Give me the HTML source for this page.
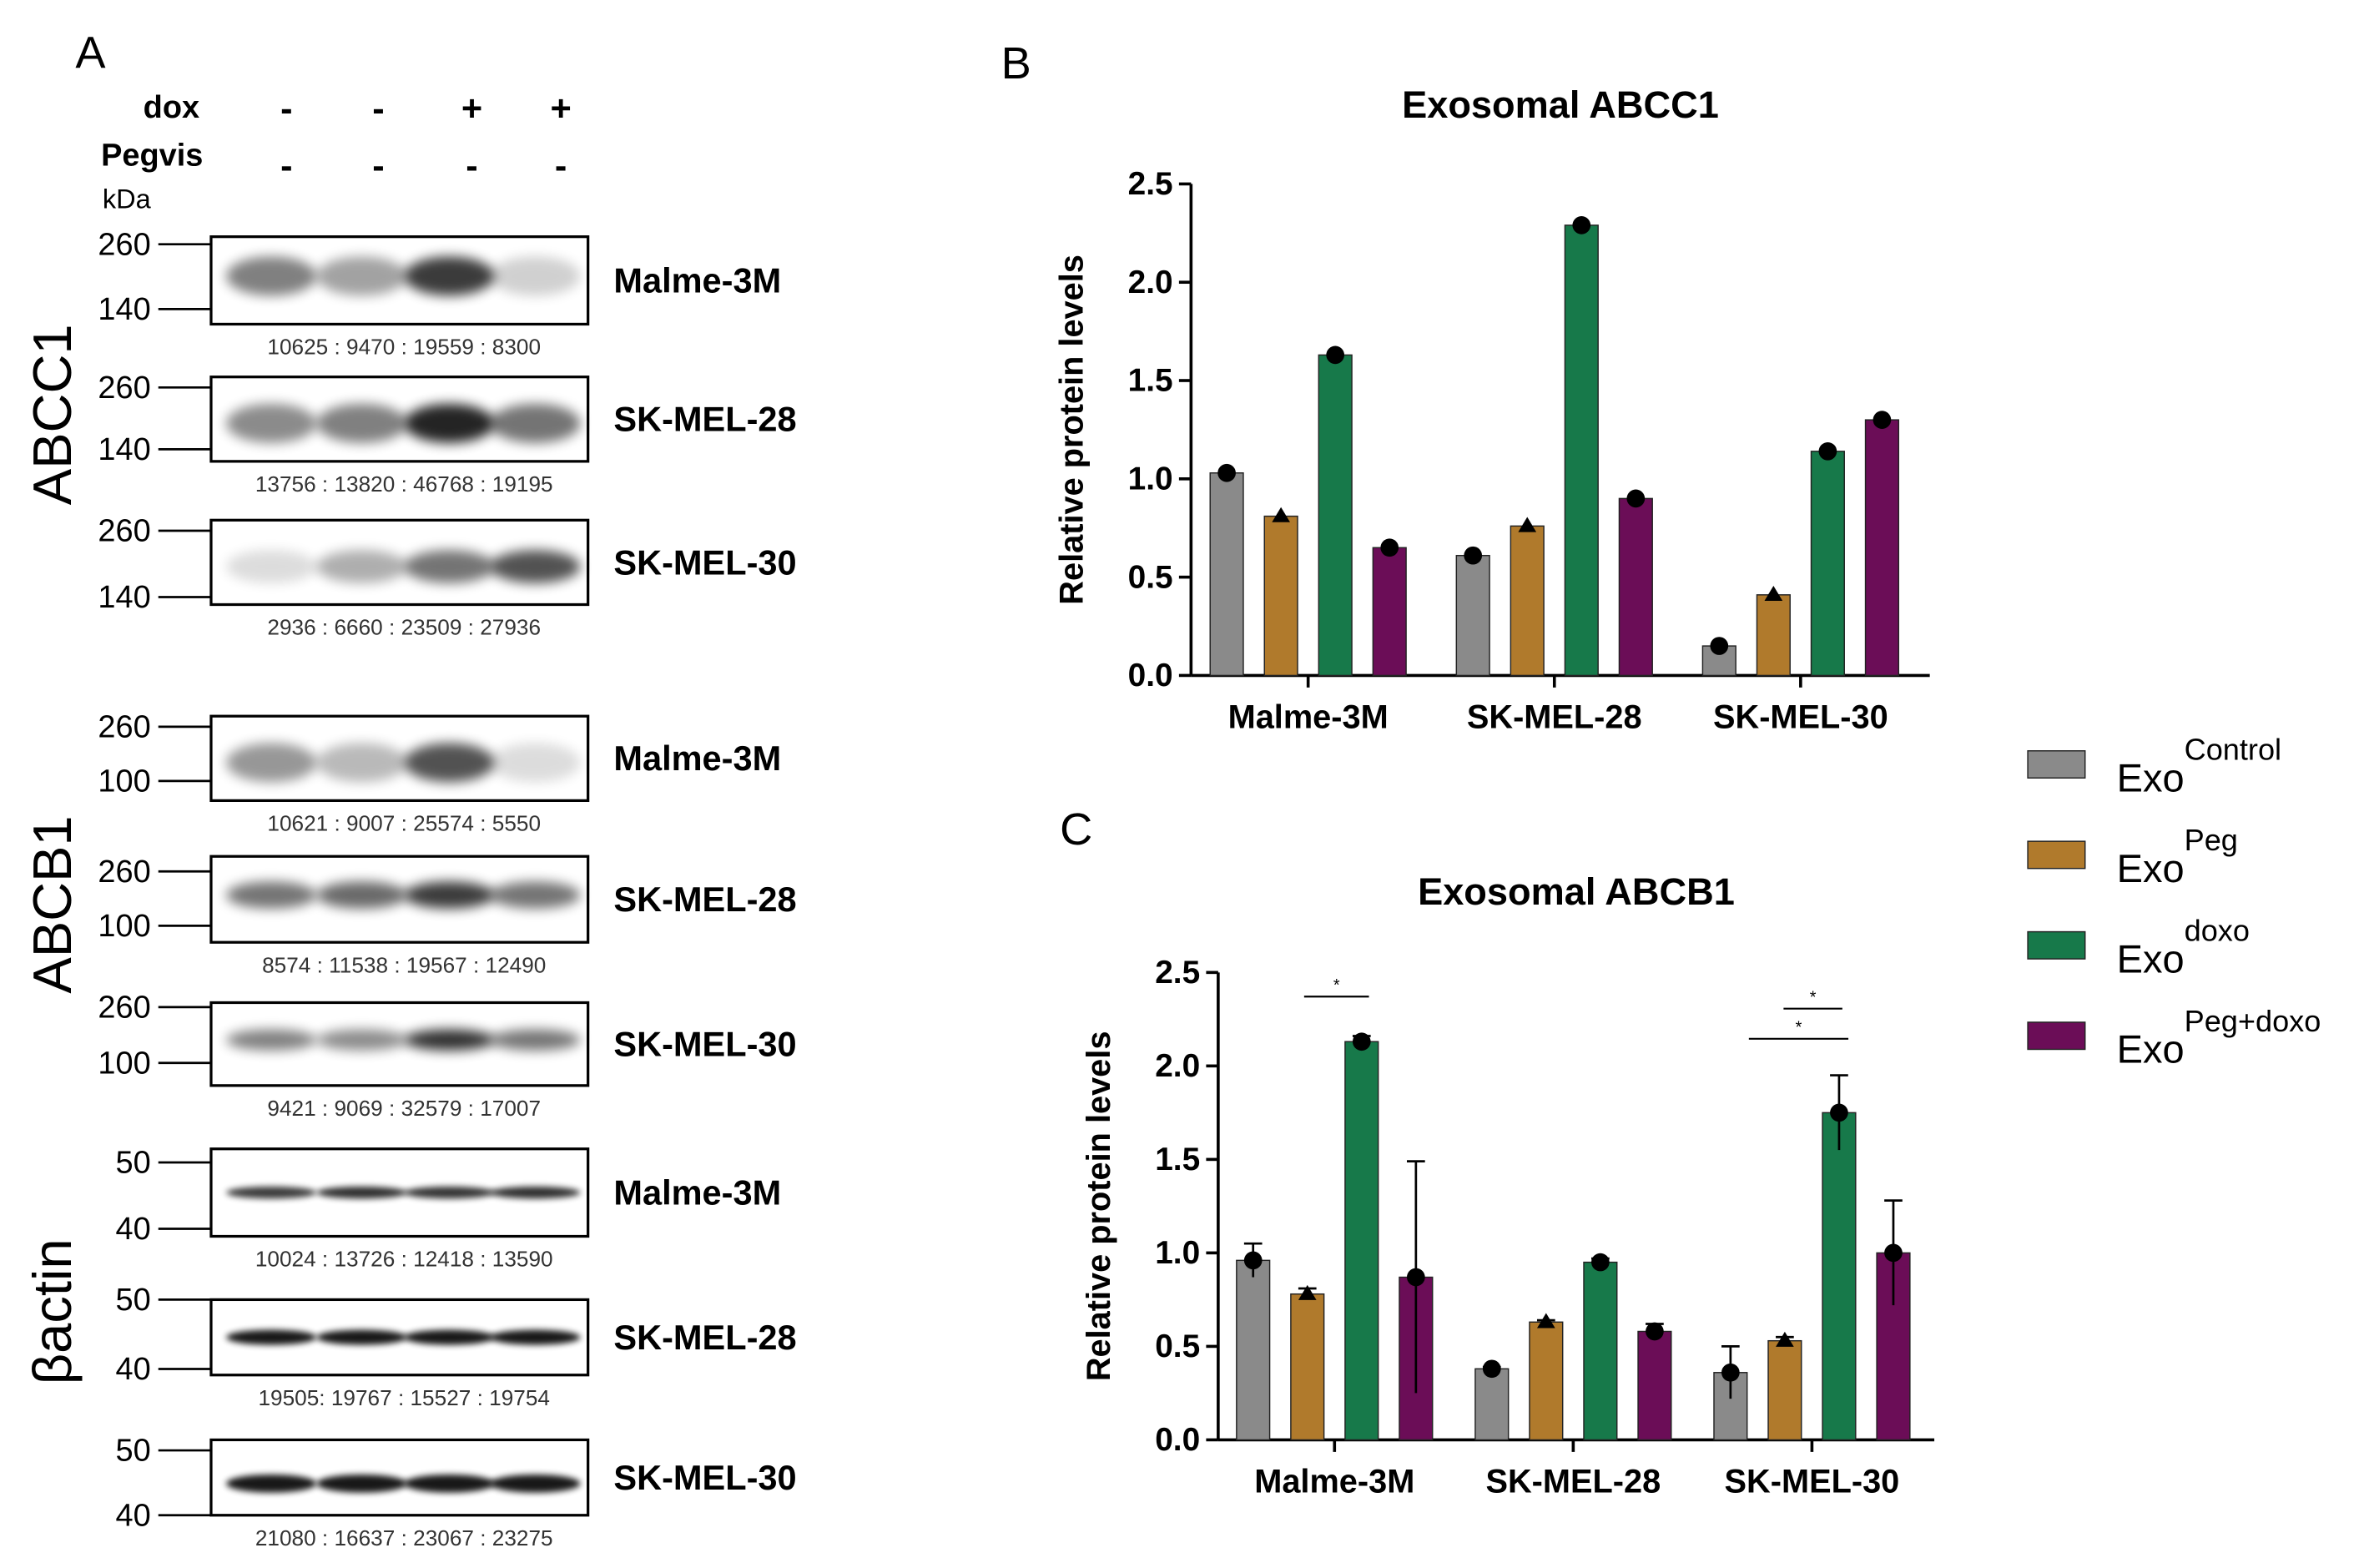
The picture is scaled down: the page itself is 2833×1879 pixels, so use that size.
<!DOCTYPE html>
<html><head><meta charset="utf-8"><style>
html,body{margin:0;padding:0;background:#fff}
svg{display:block}
text{font-family:"Liberation Sans",Arial,sans-serif}
</style></head><body>
<svg id="root" width="2833" height="1879" viewBox="0 0 1568 1040" xmlns="http://www.w3.org/2000/svg">
<defs>
<filter id="blur" x="-50%" y="-100%" width="200%" height="300%"><feGaussianBlur stdDeviation="4"/></filter>
<filter id="blur2" x="-50%" y="-100%" width="200%" height="300%"><feGaussianBlur stdDeviation="2"/></filter>
</defs>
<g id="panelA"></g>
<g id="panelB"></g>
<g id="panelC"></g>
<g id="legend"></g>
</svg>
<script>
// ---- chart data ----
const groups = ["Malme-3M","SK-MEL-28","SK-MEL-30"];
const seriesNames = ["Control","Peg","doxo","Peg+doxo"];
const abcc1Control = [1.03,0.61,0.15];
const abcc1Peg = [0.81,0.76,0.41];
const abcc1Doxo = [1.63,2.29,1.14];
const abcc1PegDoxo = [0.65,0.90,1.30];
const abcb1Control = [0.96,0.38,0.36];
const abcb1Peg = [0.78,0.63,0.53];
const abcb1Doxo = [2.13,0.95,1.75];
const abcb1PegDoxo = [0.87,0.58,1.00];
const abcb1ControlErr = [0.09,0.01,0.14];
const abcb1PegErr = [0.03,0.01,0.02];
const abcb1DoxoErr = [0.03,0.02,0.2];
const abcb1PegDoxoErr = [0.62,0.04,0.28];
const yTicks = [0.0,0.5,1.0,1.5,2.0,2.5];
const yTickLabels = ["0.0","0.5","1.0","1.5","2.0","2.5"];
const colors = ["#8a8a8a","#b07a2c","#17794a","#6b0d57"];
const markers = ["circle","tri","circle","circle"];

const NS="http://www.w3.org/2000/svg";
function mk(parent,tag,attrs,txt){const e=document.createElementNS(NS,tag);for(const k in attrs)e.setAttribute(k,attrs[k]);if(txt!==undefined)e.textContent=txt;parent.appendChild(e);return e;}

// ---- Panel A ----
const A=document.getElementById('panelA');
let t=mk(A,'text',{x:50,y:45,'font-size':30},'A');


t=mk(A,'text',{x:95,y:78,'font-size':21,'font-weight':'bold'},'dox');


t=mk(A,'text',{x:67,y:110,'font-size':21,'font-weight':'bold'},'Pegvis');


t=mk(A,'text',{x:68,y:138,'font-size':18},'kDa');


const laneX=[190,251,313,372];
const doxSigns=["-","-","+","+"], pegSigns=["-","-","-","-"];
laneX.forEach((x,i)=>{
  let s=mk(A,'text',{x:x,y:80,'font-size':24,'font-weight':'bold','text-anchor':'middle'},doxSigns[i]);
  
  
  s=mk(A,'text',{x:x,y:118,'font-size':24,'font-weight':'bold','text-anchor':'middle'},pegSigns[i]);
  
  
});
const blots=[
 {y:157,h:58,t1:"260",t2:"140",ty1:162,ty2:205,cell:"Malme-3M",nums:"10625 : 9470 : 19559 : 8300",inten:[0.55,0.4,0.85,0.2],bh:26,by:0.45},
 {y:250,h:56,t1:"260",t2:"140",ty1:257,ty2:298,cell:"SK-MEL-28",nums:"13756 : 13820 : 46768 : 19195",inten:[0.5,0.55,0.95,0.6],bh:26,by:0.55},
 {y:345,h:56,t1:"260",t2:"140",ty1:352,ty2:396,cell:"SK-MEL-30",nums:"2936 : 6660 : 23509 : 27936",inten:[0.15,0.35,0.6,0.75],bh:22,by:0.55},
 {y:475,h:56,t1:"260",t2:"100",ty1:482,ty2:518,cell:"Malme-3M",nums:"10621 : 9007 : 25574 : 5550",inten:[0.45,0.3,0.75,0.15],bh:26,by:0.55},
 {y:568,h:57,t1:"260",t2:"100",ty1:578,ty2:614,cell:"SK-MEL-28",nums:"8574 : 11538 : 19567 : 12490",inten:[0.6,0.65,0.85,0.6],bh:18,by:0.45},
 {y:665,h:55,t1:"260",t2:"100",ty1:668,ty2:705,cell:"SK-MEL-30",nums:"9421 : 9069 : 32579 : 17007",inten:[0.55,0.5,0.9,0.6],bh:14,by:0.45},
 {y:762,h:58,t1:"50",t2:"40",ty1:771,ty2:815,cell:"Malme-3M",nums:"10024 : 13726 : 12418 : 13590",inten:[0.85,0.9,0.88,0.9],bh:8,by:0.5},
 {y:862,h:50,t1:"50",t2:"40",ty1:862,ty2:908,cell:"SK-MEL-28",nums:"19505: 19767 : 15527 : 19754",inten:[1,1,1,1],bh:10,by:0.5},
 {y:955,h:50,t1:"50",t2:"40",ty1:962,ty2:1005,cell:"SK-MEL-30",nums:"21080 : 16637 : 23067 : 23275",inten:[1,1,1,1],bh:12,by:0.58}
];
blots.forEach((b,bi)=>{
  const g=mk(A,'g',{});
  
  
  mk(g,'rect',{x:140,y:b.y,width:250,height:b.h,fill:'#fff',stroke:'#000','stroke-width':1.8});
  b.inten.forEach((v,i)=>{
    const cx=[180,240,298,355][i];
    const cy=b.y+b.h*b.by;
    mk(g,'ellipse',{cx:cx,cy:cy,rx:30,ry:b.bh/2,fill:'#000',opacity:v*0.9,filter:b.bh<=12?'url(#blur2)':'url(#blur)'});
  });
  [[b.t1,b.ty1],[b.t2,b.ty2]].forEach(([lab,ty])=>{
    mk(g,'line',{x1:105,y1:ty,x2:140,y2:ty,stroke:'#000','stroke-width':1.5});
    let l=mk(g,'text',{x:100,y:ty+7,'font-size':21,'text-anchor':'end'},lab);
    
    
  });
  let c=mk(g,'text',{x:407,y:b.y+b.h/2+8,'font-size':23,'font-weight':'bold'},b.cell);
  
  
  let n=mk(g,'text',{x:268,y:b.y+b.h+20,'font-size':14.5,'text-anchor':'middle',fill:'#333'},b.nums);
  
  
});
[["ABCC1",275],["ABCB1",600],["βactin",870]].forEach(([lab,cy])=>{
  let v=mk(A,'text',{x:0,y:0,'font-size':36,'text-anchor':'middle',transform:`translate(47,${cy}) rotate(-90)`},lab);
  
  
});

// ---- Bar charts ----
function chart(root,opt){
  const {x0,x1,yTop,yBot,title,titleY,letter,lx,ly,vals,errs,gc}=opt;
  const ys=v=>yBot-(v/2.5)*(yBot-yTop);
  let e=mk(root,'text',{x:lx,y:ly,'font-size':30},letter);
  
  
  e=mk(root,'text',{x:(x0+x1)/2,y:titleY,'font-size':25,'font-weight':'bold','text-anchor':'middle'},title);
  
  
  e=mk(root,'text',{x:0,y:0,'font-size':22,'font-weight':'bold','text-anchor':'middle',transform:`translate(${x0-72},${(yTop+yBot)/2}) rotate(-90)`},'Relative protein levels');
  
  
  mk(root,'line',{x1:x0,y1:yTop,x2:x0,y2:yBot,stroke:'#000','stroke-width':2});
  mk(root,'line',{x1:x0,y1:yBot,x2:x1,y2:yBot,stroke:'#000','stroke-width':2});
  yTicks.forEach((v,i)=>{
    mk(root,'line',{x1:x0-8,y1:ys(v),x2:x0,y2:ys(v),stroke:'#000','stroke-width':2});
    let tl=mk(root,'text',{x:x0-12,y:ys(v)+7,'font-size':21.5,'font-weight':'bold','text-anchor':'end'},yTickLabels[i]);
    
    
  });
  const gw=(x1-x0)/3;
  groups.forEach((gname,gi)=>{
    const gcx=x0+gw*(gi+0.5)+gc;
    mk(root,'line',{x1:gcx,y1:yBot,x2:gcx,y2:yBot+8,stroke:'#000','stroke-width':2});
    let gl=mk(root,'text',{x:gcx,y:yBot+35,'font-size':22,'font-weight':'bold','text-anchor':'middle'},gname);
    
    
    vals.forEach((arr,si)=>{
      const cx=gcx+(si-1.5)*36, v=arr[gi];
      const bar=mk(root,'rect',{x:cx-11,y:ys(v),width:22,height:yBot-ys(v),fill:colors[si],stroke:'#222','stroke-width':0.8});
      
      
      if(errs){
        const er=errs[si][gi];
        mk(root,'line',{x1:cx,y1:ys(v+er),x2:cx,y2:ys(Math.max(0,v-er)),stroke:'#000','stroke-width':1.5});
        mk(root,'line',{x1:cx-6,y1:ys(v+er),x2:cx+6,y2:ys(v+er),stroke:'#000','stroke-width':1.5});
      }
      const my=ys(v);
      if(markers[si]==='tri') mk(root,'path',{d:`M${cx-6},${my+4} L${cx+6},${my+4} L${cx},${my-6} Z`,fill:'#000'});
      else mk(root,'circle',{cx:cx,cy:my,r:6,fill:'#000'});
    });
  });
  return ys;
}
const ysB=chart(document.getElementById('panelB'),{x0:790,x1:1280,yTop:122,yBot:448,title:'Exosomal ABCC1',titleY:78,letter:'B',lx:664,ly:52,vals:[abcc1Control,abcc1Peg,abcc1Doxo,abcc1PegDoxo],errs:null,gc:-4});
const C=document.getElementById('panelC');
const ysC=chart(C,{x0:808,x1:1283,yTop:645,yBot:955,title:'Exosomal ABCB1',titleY:600,letter:'C',lx:703,ly:560,vals:[abcb1Control,abcb1Peg,abcb1Doxo,abcb1PegDoxo],errs:[abcb1ControlErr,abcb1PegErr,abcb1DoxoErr,abcb1PegDoxoErr],gc:-2});
// significance brackets
[[865,908,661],[1183,1222,669],[1160,1226,689]].forEach(([a,b,y])=>{
  mk(C,'line',{x1:a,y1:y,x2:b,y2:y,stroke:'#000','stroke-width':1.2});
  let s=mk(C,'text',{x:(a+b)/2,y:y-4,'font-size':11,'text-anchor':'middle'},'*');
  
  
});

// ---- legend ----
const L=document.getElementById('legend');
seriesNames.forEach((n,i)=>{
  const y=507+i*60;
  const g=mk(L,'g',{});
  
  
  mk(g,'rect',{x:1345,y:y-9,width:38,height:18,fill:colors[i],stroke:'#222','stroke-width':0.8});
  const tx=mk(g,'text',{x:1404,y:y+18,'font-size':26});
  mk(tx,'tspan',{},'Exo');
  mk(tx,'tspan',{'font-size':20,dy:-21},n);
});
</script>
</body></html>
